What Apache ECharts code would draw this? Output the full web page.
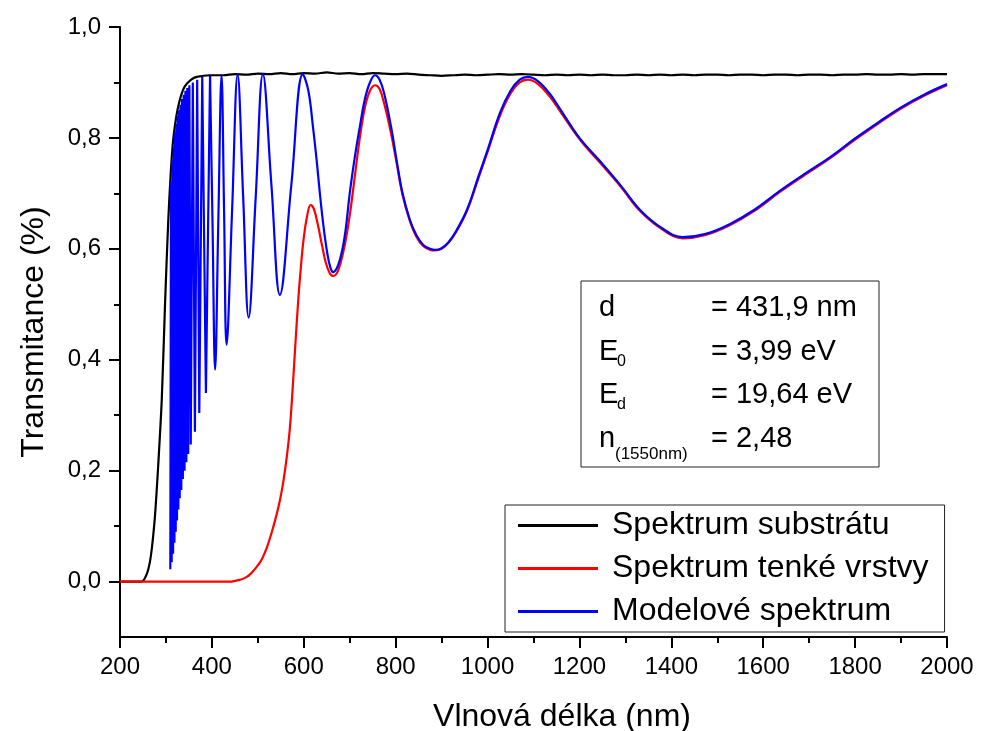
<!DOCTYPE html>
<html>
<head>
<meta charset="utf-8">
<script src="https://cdn.jsdelivr.net/npm/echarts@6/dist/echarts.min.js"></script>
<style>html,body{margin:0;padding:0;background:#fff}#c{width:981px;height:731px}</style>
</head>
<body>
<div id="c"></div>
<script>
const seriesNames = ['Spektrum substrátu', 'Spektrum tenké vrstvy', 'Modelové spektrum'];
const xAxisTitle = 'Vlnová délka (nm)';
const yAxisTitle = 'Transmitance (%)';
const yTickValues = [0, 0.2, 0.4, 0.6, 0.8, 1.0];
const yMinorTickValues = [0.1, 0.3, 0.5, 0.7, 0.9];

const substrateWl = [200, 247, 258, 265, 270, 276, 283, 291, 298, 305, 310, 315, 320, 325, 333, 341, 355, 367, 396,
  425, 450, 475, 500, 525, 550, 575, 600, 625, 650, 675, 700, 725, 750, 775, 800, 825, 850, 875, 900, 925, 950, 975,
  1000, 1025, 1050, 1075, 1100, 1125, 1150, 1175, 1200, 1225, 1250, 1275, 1300, 1325, 1350, 1375, 1400, 1425, 1450,
  1475, 1500, 1525, 1550, 1575, 1600, 1625, 1650, 1675, 1700, 1725, 1750, 1775, 1800, 1825, 1850, 1875, 1900, 1925,
  1950, 1975, 2000];
const substrateT = [0, 0, 0.013, 0.035, 0.065, 0.117, 0.207, 0.33, 0.5, 0.65, 0.73, 0.79, 0.825, 0.85, 0.877, 0.893, 0.905, 0.91, 0.913,
  0.913, 0.915, 0.914, 0.916, 0.915, 0.917, 0.915, 0.917, 0.916, 0.918, 0.916, 0.917, 0.915, 0.917, 0.916, 0.915, 0.916, 0.914, 0.913, 0.912, 0.913, 0.914, 0.913,
  0.914, 0.915, 0.914, 0.915, 0.914, 0.913, 0.914, 0.913, 0.914, 0.913, 0.914, 0.913, 0.913, 0.914, 0.913, 0.914, 0.913, 0.914, 0.913,
  0.914, 0.914, 0.913, 0.914, 0.914, 0.913, 0.914, 0.914, 0.913, 0.914, 0.914, 0.913, 0.914, 0.914, 0.915, 0.914, 0.914, 0.915, 0.914,
  0.915, 0.915, 0.915];

const filmWl = [200, 442, 455, 465, 475, 483, 490, 497, 505, 511, 520, 530, 540, 548, 556, 563, 569, 574, 581, 588, 594, 600, 607, 615,
  622, 631, 640, 648, 656, 664, 672, 680, 690, 700, 711, 722, 733, 744, 755, 765, 775, 790, 802, 815, 831, 845, 860, 875, 886,
  900, 915, 930, 955, 980, 1000, 1027, 1050, 1070, 1088, 1110, 1135, 1158, 1200, 1245, 1290, 1332, 1380, 1425, 1475, 1528,
  1580, 1637, 1690, 1745, 1800, 1854, 1900, 1950, 2000];
const filmT = [0, 0, 0.002, 0.004, 0.008, 0.013, 0.019, 0.026, 0.035, 0.044, 0.062, 0.088, 0.118, 0.146, 0.183, 0.225, 0.27, 0.325, 0.418, 0.508, 0.57, 0.62, 0.658, 0.679,
  0.672, 0.642, 0.605, 0.575, 0.557, 0.551, 0.556, 0.574, 0.61, 0.66, 0.73, 0.8, 0.855, 0.885, 0.895, 0.888, 0.862, 0.808, 0.755, 0.697, 0.65, 0.622, 0.605, 0.598, 0.597,
  0.6, 0.611, 0.628, 0.668, 0.727, 0.775, 0.84, 0.88, 0.9, 0.905, 0.897, 0.875, 0.848, 0.798, 0.755, 0.712, 0.668, 0.635, 0.619, 0.625, 0.643,
  0.668, 0.703, 0.733, 0.763, 0.797, 0.828, 0.853, 0.876, 0.895];

// dense fringes near the absorption edge
const modelDenseWl = [309.5, 311, 312.5, 314, 315.5, 317, 318.5, 320, 321.3, 322.6, 324, 325.5, 327, 328.5, 330, 331.7, 333.4, 335,
  336.8, 338.6, 340.5, 342.4, 344.4, 346.4, 348.5, 351, 354, 358.5, 363, 368, 372.6, 379, 387, 396];
const modelDenseT = [0.022, 0.72, 0.035, 0.76, 0.05, 0.785, 0.07, 0.81, 0.09, 0.825, 0.11, 0.84, 0.13, 0.85, 0.15, 0.86, 0.165, 0.87,
  0.185, 0.878, 0.2, 0.885, 0.215, 0.89, 0.23, 0.895, 0.247, 0.9, 0.27, 0.905, 0.304, 0.91, 0.34, 0.912];

const modelWl = [396, 401.5, 407, 414, 421, 426.5, 432, 444, 456, 468, 480, 495.5, 511, 529.5, 548, 573, 598, 610, 620, 628, 635, 643, 651, 658, 664,
  675, 685, 692, 700, 711, 722, 733, 744, 755, 765, 775, 790, 802, 815, 831, 845, 860, 875, 886, 900, 915, 930, 955, 980, 1000, 1027, 1050,
  1070, 1088, 1110, 1135, 1158, 1200, 1245, 1290, 1332, 1380, 1425, 1475, 1528, 1580, 1637, 1690, 1745, 1800, 1854, 1900, 1950, 2000];
const modelT = [0.912, 0.64, 0.382, 0.65, 0.913, 0.67, 0.427, 0.67, 0.914, 0.695, 0.476, 0.695, 0.915, 0.716, 0.517, 0.716, 0.915, 0.885, 0.82, 0.76, 0.7, 0.64, 0.593, 0.566, 0.558,
  0.571, 0.603, 0.64, 0.7, 0.765, 0.82, 0.87, 0.9, 0.913, 0.905, 0.88, 0.82, 0.76, 0.7, 0.652, 0.625, 0.607, 0.6, 0.598, 0.601, 0.612, 0.63, 0.67, 0.73, 0.778, 0.845, 0.885,
  0.905, 0.91, 0.902, 0.88, 0.852, 0.8, 0.758, 0.714, 0.67, 0.637, 0.621, 0.627, 0.645, 0.67, 0.705, 0.735, 0.765, 0.799, 0.83, 0.855, 0.878, 0.897];

const boxMain = ['d', 'E', 'E', 'n'];
const boxSub = ['', '0', 'd', '(1550nm)'];
const boxValue = ['= 431,9 nm', '= 3,99 eV', '= 19,64 eV', '= 2,48'];

const FONT = "'Liberation Sans', Arial, Helvetica, sans-serif";
const zip = (a, b) => a.map((v, i) => [v, b[i]]);

const chart = echarts.init(document.getElementById('c'), null, {renderer: 'canvas'});

const rowY = [308, 352, 395, 439];
const graphics = [{
  type: 'rect', x: 581, y: 281, shape: {width: 298, height: 186},
  style: {fill: 'rgba(0,0,0,0)', stroke: '#222', lineWidth: 1}, z: 100
}];
boxMain.forEach((t, i) => {
  graphics.push({type: 'text', x: 599, y: rowY[i], z: 101,
    style: {text: t, font: '29px ' + FONT, fill: '#000', verticalAlign: 'middle', align: 'left'}});
  if (boxSub[i]) {
    graphics.push({type: 'text', x: i === 3 ? 615 : 617, y: rowY[i] + (i === 3 ? 15 : 10), z: 101,
      style: {text: boxSub[i], font: (i === 3 ? '17px ' : '16px ') + FONT, fill: '#000', verticalAlign: 'middle', align: 'left'}});
  }
  graphics.push({type: 'text', x: 711, y: rowY[i], z: 101,
    style: {text: boxValue[i], font: '29px ' + FONT, fill: '#000', verticalAlign: 'middle', align: 'left'}});
});

const axisLineStyle = {color: '#000', width: 2};

chart.setOption({
  animation: false,
  backgroundColor: '#fff',
  grid: {left: 120, right: 34, top: 27, bottom: 94, containLabel: false, outerBoundsMode: 'none'},
  legend: {
    data: seriesNames,
    orient: 'vertical',
    left: 505, top: 505,
    icon: 'rect',
    itemWidth: 80, itemHeight: 3,
    itemGap: 10,
    padding: [4, 16, 4, 13],
    borderColor: '#222', borderWidth: 1,
    backgroundColor: '#fff',
    textStyle: {fontFamily: FONT, fontSize: 32, color: '#000', lineHeight: 33, padding: [0, 0, 0, 9]}
  },
  xAxis: {
    type: 'value', min: 200, max: 2000, interval: 200,
    axisLine: {show: true, onZero: false, lineStyle: axisLineStyle},
    axisTick: {show: true, length: 11, lineStyle: {color: '#000', width: 2}},
    minorTick: {show: true, splitNumber: 2, length: 6, lineStyle: {color: '#000', width: 2}},
    splitLine: {show: false}, minorSplitLine: {show: false},
    axisLabel: {fontFamily: FONT, fontSize: 24, color: '#000', margin: 18, formatter: v => String(v)},
    name: xAxisTitle, nameLocation: 'middle', nameGap: 64,
    nameTextStyle: {fontFamily: FONT, fontSize: 32, color: '#000', padding: [0, 0, 0, 57]}
  },
  yAxis: [{
    type: 'value', min: -0.1, max: 1.0,
    axisLine: {show: true, onZero: false, lineStyle: axisLineStyle},
    axisTick: {show: true, length: 11, customValues: yTickValues, lineStyle: {color: '#000', width: 2}},
    splitLine: {show: false},
    axisLabel: {customValues: yTickValues, fontFamily: FONT, fontSize: 24, color: '#000', margin: 19,
      formatter: v => v.toFixed(1).replace('.', ',')},
    name: yAxisTitle, nameLocation: 'middle', nameGap: 70,
    nameTextStyle: {fontFamily: FONT, fontSize: 32, color: '#000'}
  }, {
    type: 'value', min: -0.1, max: 1.0, position: 'left',
    axisLine: {show: false},
    axisTick: {show: true, length: 6, customValues: yMinorTickValues, lineStyle: {color: '#000', width: 2}},
    axisLabel: {show: false},
    splitLine: {show: false}
  }],
  series: [
    {name: seriesNames[0], type: 'line', data: zip(substrateWl, substrateT), showSymbol: false, symbol: 'none',
      smooth: 0.3, lineStyle: {color: '#000', width: 2.2}, itemStyle: {color: '#000'}},
    {name: seriesNames[1], type: 'line', data: zip(filmWl, filmT), showSymbol: false, symbol: 'none',
      smooth: 0.4, lineStyle: {color: '#ff0000', width: 2.2}, itemStyle: {color: '#ff0000'}},
    {name: seriesNames[2], type: 'line', data: zip(modelDenseWl, modelDenseT), showSymbol: false, symbol: 'none',
      smooth: false, lineStyle: {color: '#0000ff', width: 2.2}, itemStyle: {color: '#0000ff'}},
    {name: seriesNames[2], type: 'line', data: zip(modelWl, modelT), showSymbol: false, symbol: 'none',
      smooth: 0.4, lineStyle: {color: '#0000ff', width: 2.2}, itemStyle: {color: '#0000ff'}}
  ],
  graphic: graphics
});
</script>
</body>
</html>
